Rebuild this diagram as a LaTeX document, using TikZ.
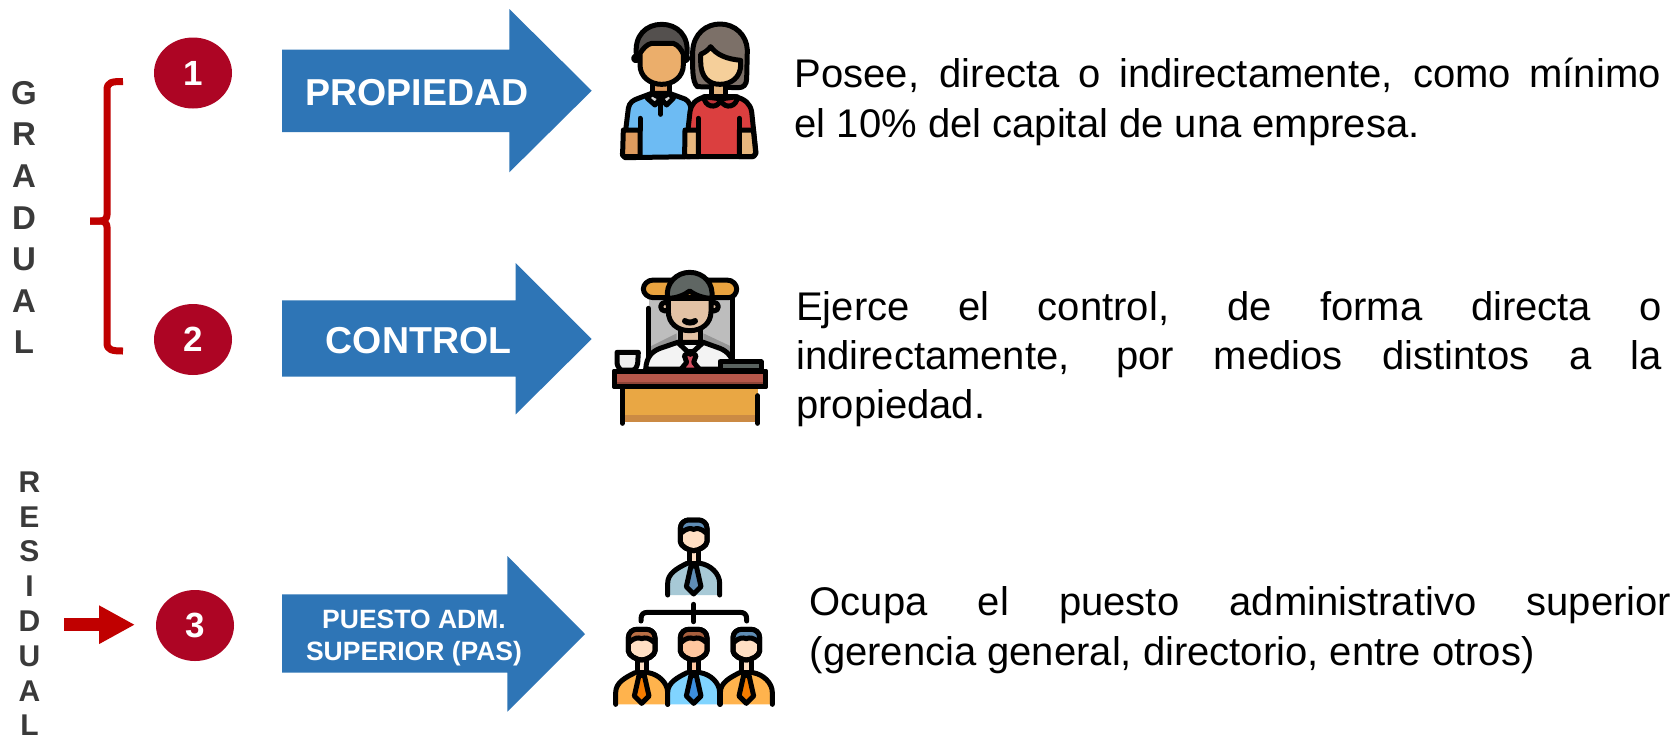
\documentclass[tikz,border=0pt]{standalone}
\usepackage{fontspec}
\setmainfont{Liberation Sans}
\usetikzlibrary{arrows.meta,shapes.geometric}
\definecolor{bluearrow}{HTML}{2E75B6}
\definecolor{wine}{HTML}{AD0524}
\definecolor{redmark}{HTML}{C00000}
\definecolor{darktext}{HTML}{3A3A3A}
\definecolor{hblue}{RGB}{95,141,181}
\definecolor{hbrowna}{RGB}{185,111,69}
\definecolor{hbrownb}{RGB}{166,95,62}
\definecolor{skinpale}{RGB}{255,223,196}
\definecolor{skinwarm}{RGB}{255,199,159}
\definecolor{shirtgrey}{RGB}{167,201,214}
\definecolor{shirtorange}{RGB}{255,179,77}
\definecolor{shirtsky}{RGB}{128,212,255}
\definecolor{tieorange}{RGB}{245,124,0}
\definecolor{tieblue}{RGB}{61,143,224}
\tikzset{
  bigarrow/.style={fill=bluearrow,draw=none},
  numdisc/.style={ellipse,fill=wine,minimum width=78pt,minimum height=71pt,inner sep=0pt,text=white,font=\fontsize{35}{35}\selectfont\bfseries},
  arrowlabel/.style={text=white,inner sep=0pt,anchor=base,align=center},
  bodytext/.style={text=black,inner sep=0pt,anchor=north west,align=left,font=\fontsize{40}{50}\selectfont},
  sideletters/.style={text=darktext,inner sep=0pt,anchor=north,align=center},
  ol/.style={draw=black,line width=5pt,line join=round,line cap=round},
  ln/.style={draw=black,line width=5pt,line join=round,line cap=round,fill=none},
  bracepath/.style={draw=redmark,line width=7pt,line join=round,fill=none},
}
\newcommand{\OrgPerson}[6]{% x, y, hair, skin, shirt, tie
  \begin{scope}[shift={(#1,#2)}]
    \fill[#5] (-78,225) -- (-78,190) .. controls (-78,160) and (-50,145) .. (-20,130) -- (20,130) .. controls (50,145) and (78,160) .. (78,190) -- (78,225) -- cycle;
    \draw[ln] (-78,225) -- (-78,190) .. controls (-78,160) and (-50,145) .. (-20,130);
    \draw[ln] (20,130) .. controls (50,135) and (78,160) .. (78,190) -- (78,225);
    \path[ol,fill=#4] (-14,85) rectangle (14,130);
    \path[ol,fill=#4] (-40,25) .. controls (-40,8) and (-25,0) .. (-15,0) -- (15,0) .. controls (25,0) and (40,8) .. (40,25) -- (40,65) .. controls (40,78) and (15,92) .. (0,92) .. controls (-15,92) and (-40,78) .. (-40,65) -- cycle;
    \path[fill=#3] (-36,36) .. controls (-36,6) and (-25,4) .. (-15,4) -- (15,4) .. controls (25,4) and (36,6) .. (36,36) .. controls (20,22) and (10,22) .. (0,26) .. controls (-10,22) and (-20,22) .. (-36,36) -- cycle;
    \path[ln] (-36,38) .. controls (-20,24) and (-10,24) .. (0,28) .. controls (10,24) and (20,24) .. (36,38);
    \path[ln] (-40,25) .. controls (-40,8) and (-25,0) .. (-15,0) -- (15,0) .. controls (25,0) and (40,8) .. (40,25) -- (40,65) .. controls (40,78) and (15,92) .. (0,92) .. controls (-15,92) and (-40,78) .. (-40,65) -- cycle;
    \path[ol,fill=#6] (-8,138) -- (8,138) -- (22,200) -- (0,222) -- (-22,200) -- cycle;
  \end{scope}
}
\begin{document}
\begin{tikzpicture}[x=1pt,y=-1pt]
\useasboundingbox (0,0) rectangle (1672,740);
\fill[white] (0,0) rectangle (1672,740);

% side labels
\node[sideletters,font=\fontsize{33}{41.6}\selectfont\bfseries] (gradual) at (24,81) {G\\R\\A\\D\\U\\A\\L};
\node[sideletters,font=\fontsize{30}{34.8}\selectfont\bfseries] (residual) at (29.5,471.5) {R\\E\\S\\I\\D\\U\\A\\L};

% brace
\draw[bracepath] (123,81.5) .. controls (112,81.5) and (107,82) .. (107,90) -- (107,215) .. controls (107,219) and (104,221) .. (100,221) -- (90,221);
\draw[bracepath] (90,221) -- (100,221) .. controls (104,221) and (107,223) .. (107,227) -- (107,343) .. controls (107,350) and (112,351) .. (123,351);

% discs
\node[numdisc] (n1) at (193,73) {1};
\node[numdisc] (n2) at (193,339.5) {2};
\node[numdisc] (n3) at (195,625.5) {3};

% small arrow
\coordinate (resstart) at (64,624.7);
\coordinate (resend) at (135,624.7);
\draw[draw=redmark,line width=12.7pt,-{Triangle[length=36pt,width=36pt]}] (resstart) -- (resend);

% big arrows
\path[bigarrow] (282,49.5) -- (509.3,49.5) -- (509.3,9) -- (591.7,90.7) -- (509.3,172.3) -- (509.3,132) -- (282,132) -- cycle;
\path[bigarrow] (282,300.3) -- (515.7,300.3) -- (515.7,263) -- (591.7,339) -- (515.7,414.3) -- (515.7,376.7) -- (282,376.7) -- cycle;
\path[bigarrow] (282,594.3) -- (507.3,594.3) -- (507.3,556) -- (585,634) -- (507.3,711.7) -- (507.3,672.7) -- (282,672.7) -- cycle;
\node[arrowlabel,font=\fontsize{37.5}{37.5}\selectfont\bfseries] (lab1) at (417,105) {PROPIEDAD};
\node[arrowlabel,font=\fontsize{37.5}{37.5}\selectfont\bfseries] (lab2) at (418.5,353) {CONTROL};
\node[arrowlabel,font=\fontsize{26.5}{32}\selectfont\bfseries,anchor=north] (lab3) at (414,610) {PUESTO ADM.\\SUPERIOR (PAS)};

% body texts
\node[bodytext] (txt1) at (794.5,58) {\makebox[866pt][s]{Posee, directa o indirectamente, como mínimo}\\el 10\% del capital de una empresa.};
\node[bodytext,font=\fontsize{40}{49.3}\selectfont] (txt2) at (796,291) {\makebox[866pt][s]{Ejerce el control, de forma directa o}\\\makebox[866pt][s]{indirectamente, por medios distintos a la}\\propiedad.};
\node[bodytext] (txt3) at (809.5,586) {\makebox[861.5pt][s]{Ocupa el puesto administrativo superior}\\(gerencia general, directorio, entre otros)};

% ---- icon 1: couple
\begin{scope}[shift={(610,15)},scale=1/3]
  % woman hair
  \path[ol,fill={rgb,255:red,124;green,112;blue,104}] (262,215) .. controls (245,200) and (248,150) .. (248,110) .. controls (250,55) and (290,27) .. (330,27) .. controls (375,27) and (410,60) .. (412,105) -- (410,190) .. controls (410,210) and (400,218) .. (385,218) -- cycle;
  % man hair
  \path[ol,fill={rgb,255:red,84;green,80;blue,78}] (80,125) .. controls (70,60) and (110,28) .. (155,28) .. controls (200,28) and (240,60) .. (230,125) -- cycle;
  \path[ol,fill={rgb,255:red,235;green,174;blue,107}] (78,130) circle (7);
  \path[ol,fill={rgb,255:red,235;green,174;blue,107}] (226,130) circle (7);
  % man neck + face
  \path[ol,fill={rgb,255:red,222;green,155;blue,95}] (128,195) rectangle (178,250);
  \path[ol,fill={rgb,255:red,235;green,174;blue,107}] (90,150) -- (90,115) .. controls (100,100) and (110,88) .. (125,85) -- (190,85) .. controls (205,90) and (215,105) .. (220,118) -- (220,150) .. controls (220,185) and (190,208) .. (155,208) .. controls (120,208) and (90,185) .. (90,150) -- cycle;
  % man shirt
  \path[ol,fill={rgb,255:red,109;green,187;blue,243}] (38,420) -- (55,280) .. controls (58,262) and (70,255) .. (85,250) -- (125,235) -- (178,235) -- (225,252) .. controls (238,258) and (245,275) .. (245,300) -- (240,425) -- (45,428) -- cycle;
  \path[ol,fill={rgb,255:red,222;green,155;blue,95}] (40,345) -- (90,345) -- (90,425) -- (45,425) .. controls (38,425) and (36,420) .. (38,410) -- cycle;
  \path[ln] (90,310) -- (90,345);
  \path[ol,fill={rgb,255:red,216;green,216;blue,216}] (125,235) -- (112,250) -- (135,270) -- (152,250) -- (170,270) -- (190,250) -- (178,235) -- (152,250) -- cycle;
  \path[ln] (152,252) -- (152,298);
  % woman neck + face
  \path[ol,fill={rgb,255:red,227;green,180;blue,126}] (305,195) rectangle (345,255);
  \path[ol,fill={rgb,255:red,245;green,207;blue,154}] (272,140) -- (272,118) .. controls (285,112) and (295,105) .. (302,95) .. controls (320,120) and (350,132) .. (392,136) -- (392,150) .. controls (392,185) and (365,208) .. (330,208) .. controls (295,208) and (272,185) .. (272,140) -- cycle;
  % woman shirt
  \path[ol,fill={rgb,255:red,219;green,63;blue,63}] (225,425) -- (240,290) .. controls (245,265) and (255,255) .. (285,245) -- (375,245) .. controls (405,252) and (420,265) .. (425,290) -- (438,415) -- (430,425) -- cycle;
  \path[ol,fill={rgb,255:red,190;green,50;blue,55}] (282,245) .. controls (282,275) and (320,285) .. (332,256) .. controls (345,285) and (382,275) .. (382,245) -- (345,250) -- (320,250) -- cycle;
  \path[ol,fill={rgb,255:red,232;green,183;blue,126}] (225,345) -- (265,345) -- (265,425) -- (232,425) .. controls (225,425) and (223,420) .. (224,410) -- cycle;
  \path[ol,fill={rgb,255:red,232;green,183;blue,126}] (388,345) -- (430,345) -- (437,412) .. controls (437,420) and (432,425) .. (425,425) -- (388,425) -- cycle;
  \path[ln] (265,310) -- (265,345);
  \path[ln] (388,310) -- (388,345);
\end{scope}

% ---- icon 2: desk
\begin{scope}[shift={(605,265)},scale=1/3]
  \path[fill={rgb,255:red,189;green,189;blue,189}] (132,95) rectangle (385,290);
  \path[fill={rgb,255:red,150;green,150;blue,150}] (135,245) -- (215,205) -- (215,232) -- (135,270) -- cycle;
  \path[fill={rgb,255:red,150;green,150;blue,150}] (380,245) -- (295,205) -- (295,232) -- (380,270) -- cycle;
  \path[ln] (130,130) -- (130,305);
  \path[ln] (383,100) -- (383,285);
  \path[ol,fill={rgb,255:red,233;green,163;blue,63}] (145,45) -- (365,45) .. controls (385,45) and (395,60) .. (395,72) .. controls (395,85) and (385,98) .. (370,98) -- (145,98) .. controls (128,98) and (115,85) .. (115,72) .. controls (115,58) and (128,45) .. (145,45) -- cycle;
  \path[ol,fill={rgb,255:red,227;green,194;blue,165}] (180,125) circle (13);
  \path[ol,fill={rgb,255:red,227;green,194;blue,165}] (327,125) circle (13);
  \path[ol,fill={rgb,255:red,227;green,194;blue,165}] (225,180) rectangle (285,240);
  % body
  \path[ol,fill={rgb,255:red,243;green,243;blue,243}] (122,312) .. controls (125,275) and (140,260) .. (165,250) -- (218,232) -- (295,232) -- (345,250) .. controls (370,260) and (385,280) .. (388,312) -- cycle;
  \path[ol,fill={rgb,255:red,210;green,78;blue,95}] (256,258) -- (273,272) -- (266,292) -- (285,315) -- (226,315) -- (245,292) -- (238,272) -- cycle;
  \path[ln] (218,232) -- (256,268) -- (295,232);
  % face
  \path[ol,fill={rgb,255:red,227;green,194;blue,165}] (190,100) -- (318,100) -- (318,140) .. controls (318,175) and (290,197) .. (254,197) .. controls (218,197) and (190,175) .. (190,140) -- cycle;
  \path[ol,fill={rgb,255:red,95;green,102;blue,99}] (188,100) .. controls (180,55) and (215,22) .. (254,22) .. controls (295,22) and (328,55) .. (320,100) .. controls (295,100) and (270,90) .. (254,78) .. controls (238,90) and (215,100) .. (188,100) -- cycle;
  \path[draw=black,line width=6pt,line cap=round] (240,168) .. controls (247,174) and (263,174) .. (270,168);
  % cup
  \path[ol,fill={rgb,255:red,238;green,238;blue,238}] (36,262) -- (100,262) -- (98,295) .. controls (95,308) and (90,315) .. (85,315) -- (50,315) .. controls (45,315) and (38,305) .. (36,295) -- cycle;
  % tray
  \path[ol,fill={rgb,255:red,89;green,98;blue,95}] (345,290) -- (468,290) -- (468,315) -- (345,315) -- cycle;
  % desk
  \path[fill={rgb,255:red,233;green,167;blue,68}] (52,368) rectangle (458,472);
  \path[fill={rgb,255:red,203;green,138;blue,68}] (52,450) rectangle (458,472);
  \path[ol,fill={rgb,255:red,181;green,87;blue,74}] (28,318) rectangle (482,365);
  \path[fill={rgb,255:red,143;green,68;blue,55}] (32,352) rectangle (478,362);
  \path[ln] (28,318) rectangle (482,365);
  \path[ln] (52,368) -- (52,475);
  \path[ln] (458,392) -- (458,475);
\end{scope}

% ---- icon 3: organisation
\begin{scope}[shift={(605,515)},scale=1/3]
  \OrgPerson{266}{15}{hblue}{skinpale}{shirtgrey}{hblue}
  \path[ln] (108,318) -- (108,312) .. controls (108,298) and (115,292) .. (128,292) -- (405,292) .. controls (418,292) and (425,298) .. (425,312) -- (425,318);
  \path[ln] (266,268) -- (266,320);
  \OrgPerson{110}{343}{hbrowna}{skinpale}{shirtorange}{tieorange}
  \OrgPerson{424}{343}{hblue}{skinpale}{shirtorange}{tieorange}
  \OrgPerson{266}{343}{hbrownb}{skinwarm}{shirtsky}{tieblue}
\end{scope}
\end{tikzpicture}
\end{document}
